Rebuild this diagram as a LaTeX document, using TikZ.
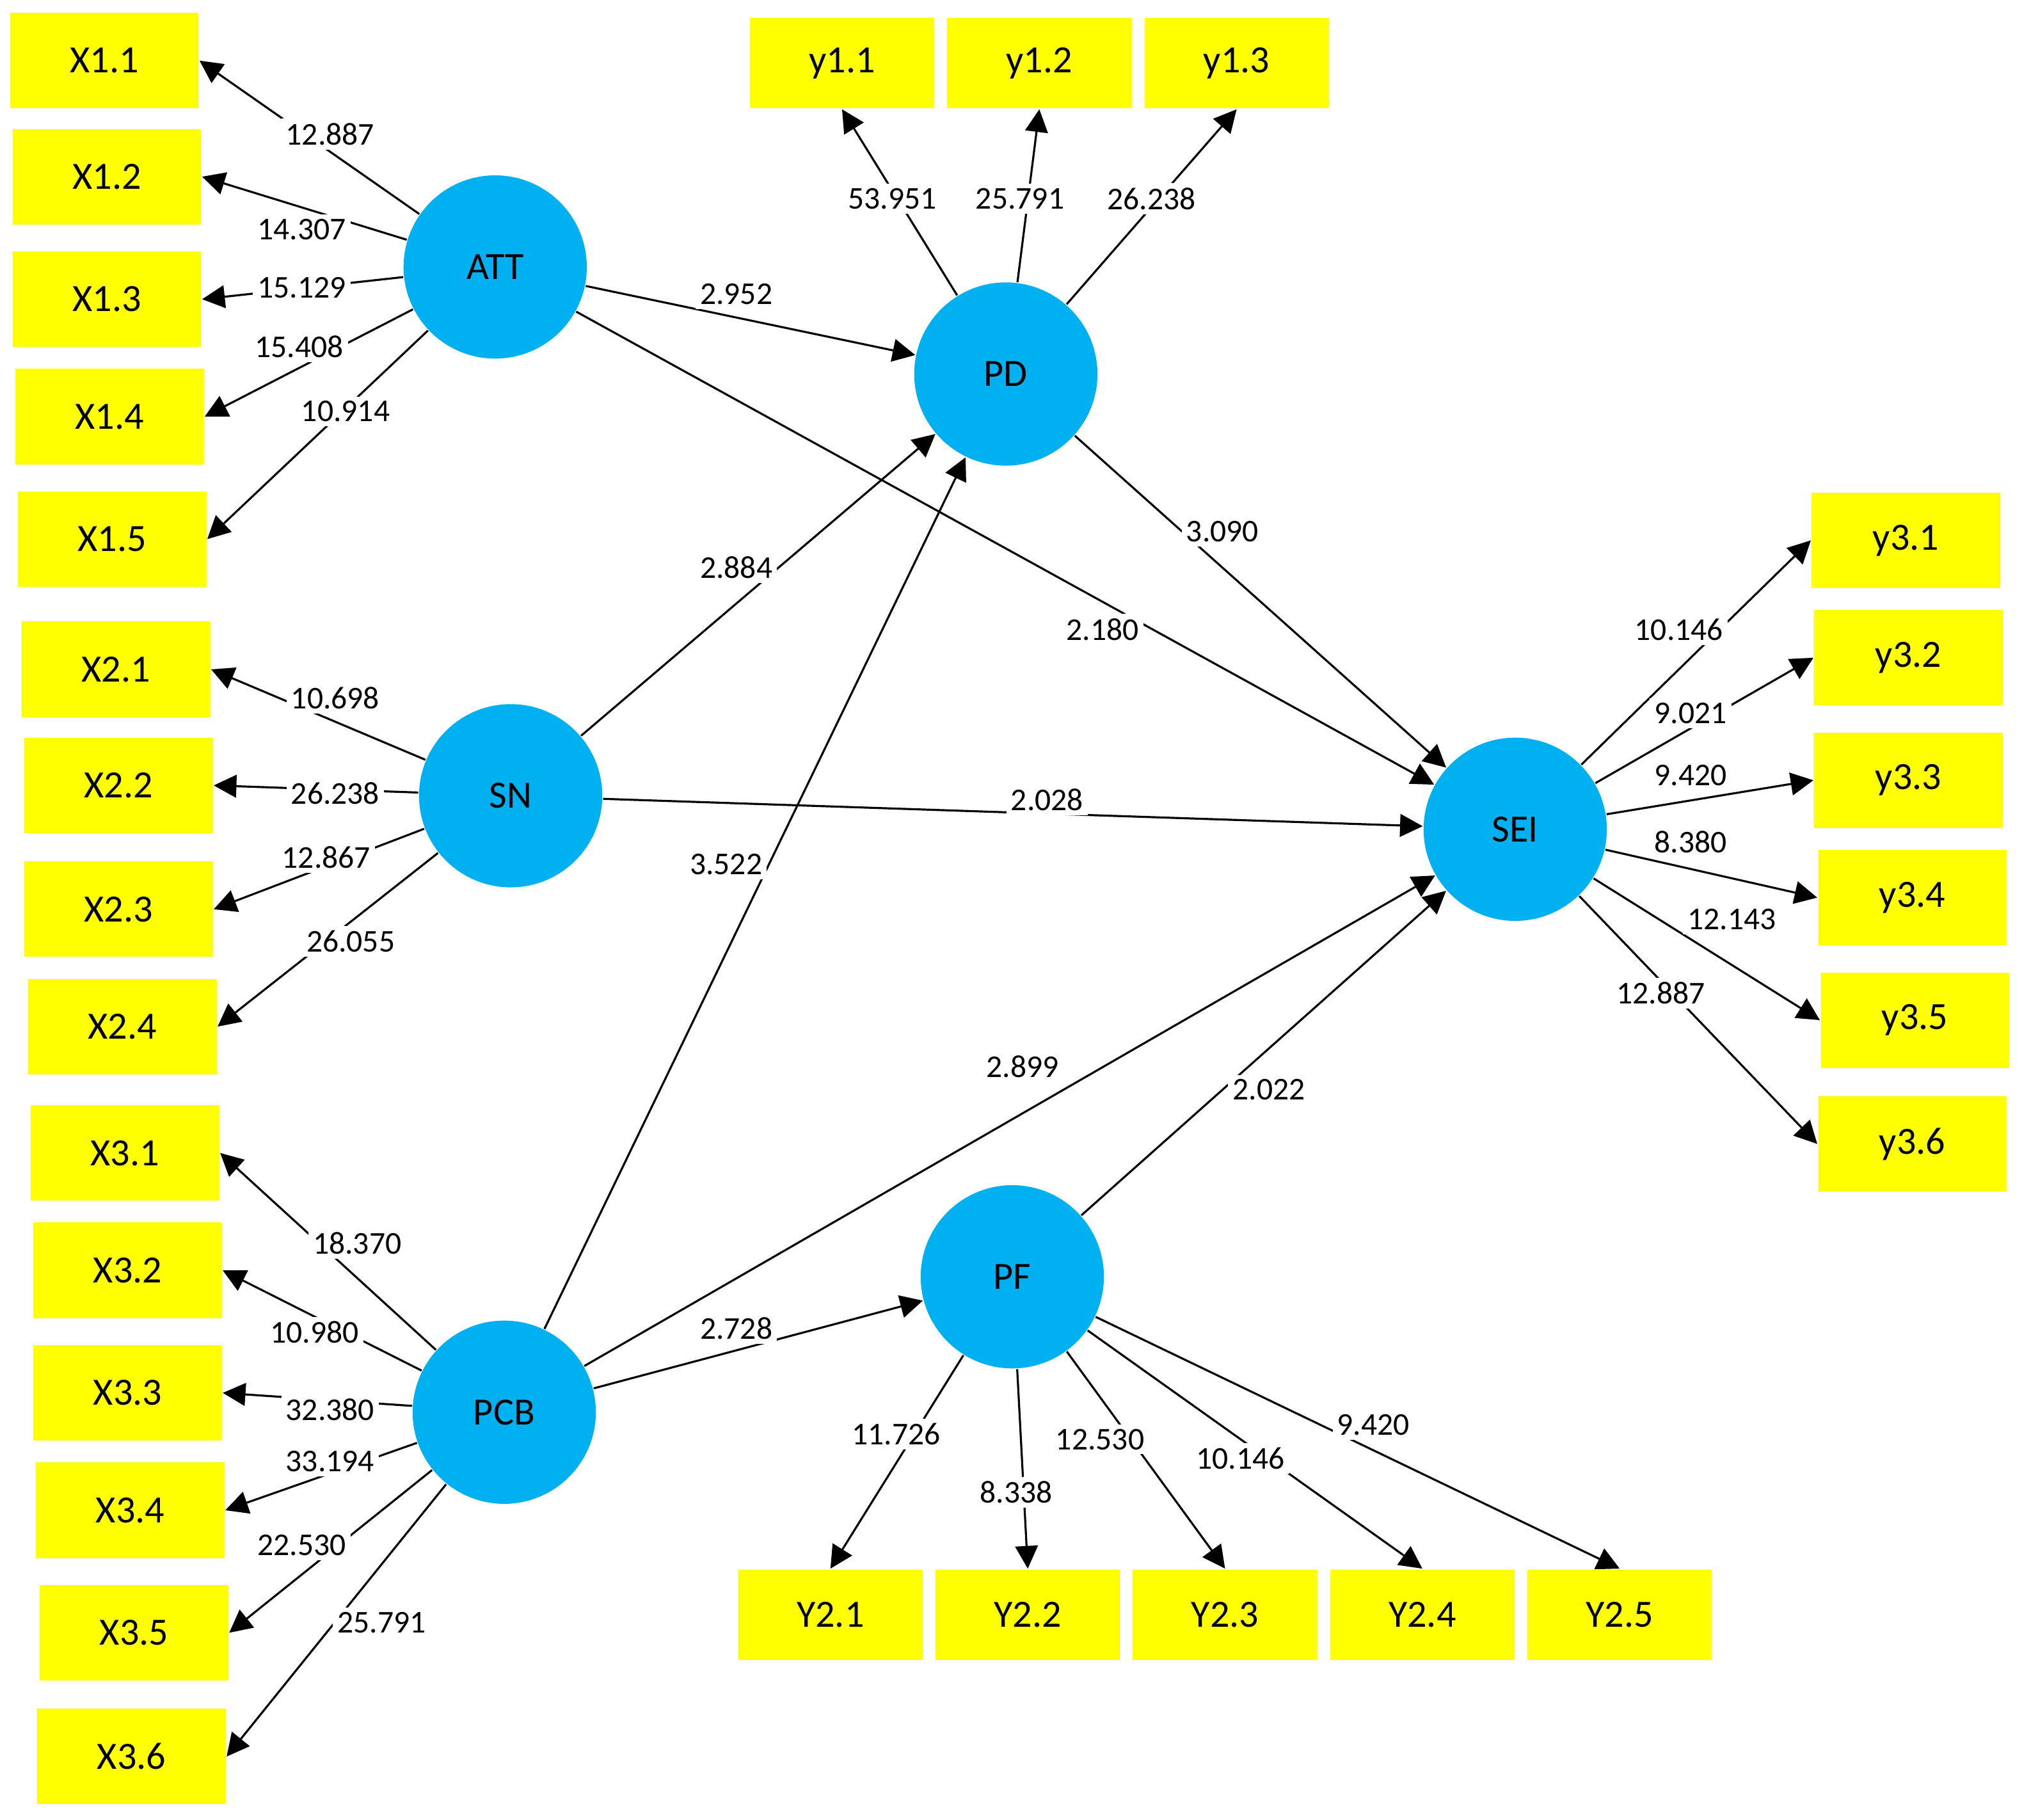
\documentclass[tikz,border=0pt]{standalone}
\usepackage{fontspec}
\setmainfont{Carlito}
\usetikzlibrary{arrows.meta}
\definecolor{cy}{HTML}{00B0F0}
\definecolor{yl}{HTML}{FFFF00}
\begin{document}
\begin{tikzpicture}[x=0.01cm,y=-0.01cm,
 box/.style={fill=yl,minimum width=1.46cm,minimum height=0.74cm,inner sep=0,font=\fontsize{8.5}{10}\selectfont},
 lv/.style={circle,fill=cy,minimum size=1.42cm,inner sep=0,font=\fontsize{8.5}{10}\selectfont},
 lb/.style={fill=white,inner sep=1pt,font=\fontsize{7}{8}\selectfont},
 ar/.style={-{Triangle[length=5pt,width=5pt]},line width=0.45pt}]
\useasboundingbox (0,0) rectangle (1568,1411);
% boxes
\foreach \n/\t/\x/\y in {X11/X1.1/81/47,X12/X1.2/83/137,X13/X1.3/83/232,X14/X1.4/85/323,X15/X1.5/87/418,
 X21/X2.1/90/519,X22/X2.2/92/609,X23/X2.3/92/705,X24/X2.4/95/796,
 X31/X3.1/97/894,X32/X3.2/99/985,X33/X3.3/99/1080,X34/X3.4/101/1171,X35/X3.5/104/1266,X36/X3.6/102/1362,
 y31/y3.1/1478/419,y32/y3.2/1480/510,y33/y3.3/1480/605,y34/y3.4/1483/696,y35/y3.5/1485/791,y36/y3.6/1483/887}
 \node[box] (\n) at (\x,\y) {\t};
\foreach \n/\t/\x/\y in {y11/y1.1/653/49,y12/y1.2/806/49,y13/y1.3/959/49,
 Y21/Y2.1/644/1252,Y22/Y2.2/797/1252,Y23/Y2.3/950/1252,Y24/Y2.4/1103/1252,Y25/Y2.5/1256/1252}
 \node[box,minimum width=1.43cm,minimum height=0.7cm] (\n) at (\x,\y) {\t};
% latent
\node[lv] (ATT) at (384,207) {ATT};
\node[lv] (PD) at (780,290) {PD};
\node[lv] (SN) at (396,617) {SN};
\node[lv] (SEI) at (1175,643) {SEI};
\node[lv] (PF) at (785,990) {PF};
\node[lv] (PCB) at (391,1095) {PCB};
% arrows with labels
\foreach \a/\b/\l/\x/\y in {
 ATT/X11.east/12.887/256/104, ATT/X12.east/14.307/234/178, ATT/X13.east/15.129/234/223, ATT/X14.east/15.408/232/269, ATT/X15.east/10.914/268/319,
 ATT/PD/2.952/571/228, ATT/SEI/2.180/855/488,
 PD/y11.south/53.951/692/154, PD/y12.south/25.791/791/154, PD/y13.south/26.238/893/154,
 PD/SEI/3.090/948/412,
 SN/PD/2.884/571/440, SN/SEI/2.028/812/620,
 SN/X21.east/10.698/260/541, SN/X22.east/26.238/260/615, SN/X23.east/12.867/253/665, SN/X24.east/26.055/272/730,
 PCB/PD/3.522/563/670, PCB/SEI/2.899/793/827, PCB/PF/2.728/571/1030, PF/SEI/2.022/984/845,
 SEI/y31.west/10.146/1302/488, SEI/y32.west/9.021/1311/553, SEI/y33.west/9.420/1311/601, SEI/y34.west/8.380/1311/653, SEI/y35.west/12.143/1343/713, SEI/y36.west/12.887/1288/770,
 PCB/X31.east/18.370/277/964, PCB/X32.east/10.980/244/1033, PCB/X33.east/32.380/256/1093, PCB/X34.east/33.194/256/1133, PCB/X35.east/22.530/234/1198, PCB/X36.east/25.791/296/1258,
 PF/Y21.north/11.726/695/1112, PF/Y22.north/8.338/788/1157, PF/Y23.north/12.530/853/1116, PF/Y24.north/10.146/962/1131, PF/Y25.north/9.420/1065/1105}
 {\draw[ar] (\a) -- (\b);}
\foreach \l/\x/\y in {12.887/256/104, 14.307/234/178, 15.129/234/223, 15.408/232/269, 10.914/268/319,
 2.952/571/228, 2.180/855/488, 53.951/692/154, 25.791/791/154, 26.238/893/154, 3.090/948/412,
 2.884/571/440, 2.028/812/620, 10.698/260/541, 26.238/260/615, 12.867/253/665, 26.055/272/730,
 3.522/563/670, 2.899/793/827, 2.728/571/1030, 2.022/984/845,
 10.146/1302/488, 9.021/1311/553, 9.420/1311/601, 8.380/1311/653, 12.143/1343/713, 12.887/1288/770,
 18.370/277/964, 10.980/244/1033, 32.380/256/1093, 33.194/256/1133, 22.530/234/1198, 25.791/296/1258,
 11.726/695/1112, 8.338/788/1157, 12.530/853/1116, 10.146/962/1131, 9.420/1065/1105}
 \node[lb] at (\x,\y) {\l};
\end{tikzpicture}
\end{document}
